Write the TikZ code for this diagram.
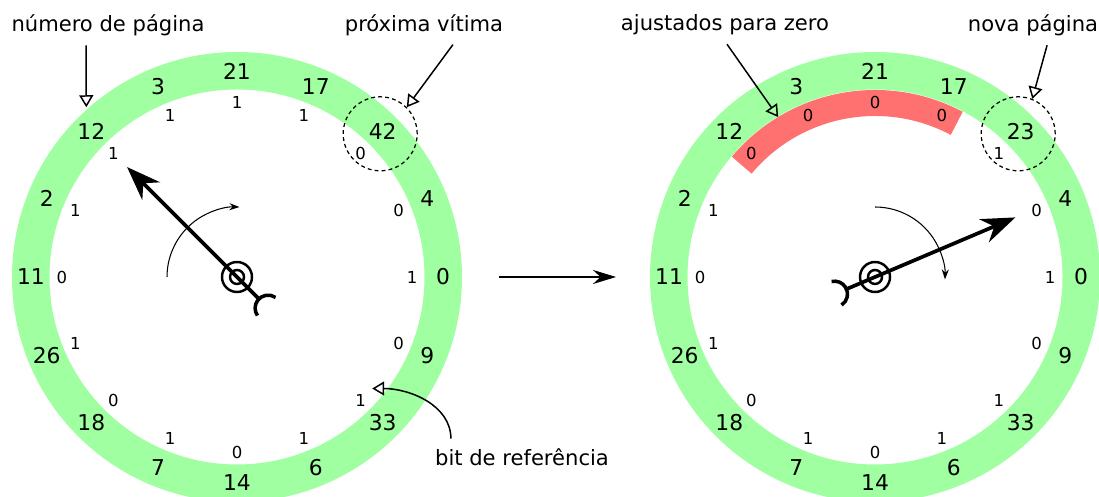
\documentclass[tikz,border=0pt]{standalone}
\usepackage{fontspec}
\setmainfont{DejaVu Sans}
\usepackage{xcolor}
\usepackage{tikz}
\usetikzlibrary{arrows.meta}

\definecolor{ringgreen}{RGB}{160,255,160}
\definecolor{zerored}{RGB}{255,112,112}

\tikzset{
  page/.style={font=\fontsize{12.4}{14}\selectfont},
  refbit/.style={font=\fontsize{9.4}{11}\selectfont},
  lbl/.style={font=\fontsize{12}{14}\selectfont},
  ring/.style={draw=ringgreen,line width=0.75cm},
  zeroband/.style={draw=zerored,line width=0.52cm},
  hand/.style={line width=2.1pt,-{Stealth[length=0.68cm,width=0.5cm]}},
  tailarc/.style={line width=2pt},
  pivot/.style={draw,circle,line width=1.4pt,inner sep=0},
  spin/.style={line width=0.6pt,-{Stealth[length=0.2cm,width=0.14cm]}},
  victim/.style={draw,circle,dash pattern=on 2.2pt off 1.8pt,line width=0.7pt,minimum size=1.48cm,inner sep=0},
  pointer/.style={line width=0.85pt,shorten <=2pt,-{Triangle[open,length=0.24cm,width=0.28cm]}},
  advance/.style={line width=1.4pt,-{Stealth[length=0.46cm,width=0.28cm]}}
}

\begin{document}
\begin{tikzpicture}
    \useasboundingbox (0,0) rectangle (21.98,9.94);

    % clock before
    \begin{scope}[shift={(4.74,4.40)}]
    \draw[ring] (0,0) circle (4.125);
    \node[victim] (lvict) at (45:4.05) {};

    \node[page] (l21) at (90:4.12) {21};
    \node[page] (l17) at (67.5:4.12) {17};
    \node[page] (l42) at (45:4.12) {42};
    \node[page] (l4) at (22.5:4.12) {4};
    \node[page] (l0) at (0:4.12) {0};
    \node[page] (l9) at (-22.5:4.12) {9};
    \node[page] (l33) at (-45:4.12) {33};
    \node[page] (l6) at (-67.5:4.12) {6};
    \node[page] (l14) at (-90:4.12) {14};
    \node[page] (l7) at (-112.5:4.12) {7};
    \node[page] (l18) at (-135:4.12) {18};
    \node[page] (l26) at (-157.5:4.12) {26};
    \node[page] (l11) at (180:4.12) {11};
    \node[page] (l2) at (157.5:4.12) {2};
    \node[page] (l12) at (135:4.12) {12};
    \node[page] (l3) at (112.5:4.12) {3};

    \node[refbit] (lb21) at (90:3.5) {1};
    \node[refbit] (lb17) at (67.5:3.5) {1};
    \node[refbit] (lb42) at (45:3.5) {0};
    \node[refbit] (lb4) at (22.5:3.5) {0};
    \node[refbit] (lb0) at (0:3.5) {1};
    \node[refbit] (lb9) at (-22.5:3.5) {0};
    \node[refbit] (lb33) at (-45:3.5) {1};
    \node[refbit] (lb6) at (-67.5:3.5) {1};
    \node[refbit] (lb14) at (-90:3.5) {0};
    \node[refbit] (lb7) at (-112.5:3.5) {1};
    \node[refbit] (lb18) at (-135:3.5) {0};
    \node[refbit] (lb26) at (-157.5:3.5) {1};
    \node[refbit] (lb11) at (180:3.5) {0};
    \node[refbit] (lb2) at (157.5:3.5) {1};
    \node[refbit] (lb12) at (135:3.5) {1};
    \node[refbit] (lb3) at (112.5:3.5) {1};

    \coordinate (ltip) at (135:3.11);
    \coordinate (ltail) at (315:0.62);
    \draw[hand] (ltail) -- (ltip);
    \draw[tailarc] (315:0.88) ++(55:0.26) arc (55:215:0.26);
    \node[pivot,minimum size=0.6cm] (lpiv) at (0,0) {};
    \node[pivot,minimum size=0.28cm] (lpivin) at (0,0) {};
    \draw[spin] (180:1.4) arc (180:88:1.4);
    \coordinate (lnum) at (131.6:4.54);
    \end{scope}

    % clock after
    \begin{scope}[shift={(17.50,4.40)}]
    \draw[ring] (0,0) circle (4.125);
    \draw[zeroband] (140:3.48) arc (140:62:3.48);
    \node[victim] (rvict) at (45:4.05) {};

    \node[page] (r21) at (90:4.12) {21};
    \node[page] (r17) at (67.5:4.12) {17};
    \node[page] (r23) at (45:4.12) {23};
    \node[page] (r4) at (22.5:4.12) {4};
    \node[page] (r0) at (0:4.12) {0};
    \node[page] (r9) at (-22.5:4.12) {9};
    \node[page] (r33) at (-45:4.12) {33};
    \node[page] (r6) at (-67.5:4.12) {6};
    \node[page] (r14) at (-90:4.12) {14};
    \node[page] (r7) at (-112.5:4.12) {7};
    \node[page] (r18) at (-135:4.12) {18};
    \node[page] (r26) at (-157.5:4.12) {26};
    \node[page] (r11) at (180:4.12) {11};
    \node[page] (r2) at (157.5:4.12) {2};
    \node[page] (r12) at (135:4.12) {12};
    \node[page] (r3) at (112.5:4.12) {3};

    \node[refbit] (rb21) at (90:3.5) {0};
    \node[refbit] (rb17) at (67.5:3.5) {0};
    \node[refbit] (rb23) at (45:3.5) {1};
    \node[refbit] (rb4) at (22.5:3.5) {0};
    \node[refbit] (rb0) at (0:3.5) {1};
    \node[refbit] (rb9) at (-22.5:3.5) {0};
    \node[refbit] (rb33) at (-45:3.5) {1};
    \node[refbit] (rb6) at (-67.5:3.5) {1};
    \node[refbit] (rb14) at (-90:3.5) {0};
    \node[refbit] (rb7) at (-112.5:3.5) {1};
    \node[refbit] (rb18) at (-135:3.5) {0};
    \node[refbit] (rb26) at (-157.5:3.5) {1};
    \node[refbit] (rb11) at (180:3.5) {0};
    \node[refbit] (rb2) at (157.5:3.5) {1};
    \node[refbit] (rb12) at (135:3.5) {0};
    \node[refbit] (rb3) at (112.5:3.5) {0};

    \coordinate (rtip) at (23:3.05);
    \coordinate (rtail) at (203:0.62);
    \draw[hand] (rtail) -- (rtip);
    \draw[tailarc] (203:0.88) ++(-57:0.26) arc (-57:103:0.26);
    \node[pivot,minimum size=0.6cm] (rpiv) at (0,0) {};
    \node[pivot,minimum size=0.28cm] (rpivin) at (0,0) {};
    \draw[spin] (90:1.4) arc (90:-2:1.4);
    \coordinate (rzero) at (121.2:3.74);
    \end{scope}

    % labels
    \node[lbl] (numlbl) at (2.16,9.44) {número de página};
    \draw[pointer] ([xshift=-0.44cm]numlbl.south) -- (lnum);

    \node[lbl] (proxlbl) at (8.48,9.44) {próxima vítima};
    \draw[pointer] ([xshift=0.62cm]proxlbl.south) -- (lvict.45);

    \node[lbl] (ajlbl) at (14.50,9.44) {ajustados para zero};
    \draw[pointer] (ajlbl.south) -- (rzero);

    \node[lbl] (novalbl) at (20.66,9.44) {nova página};
    \draw[pointer] ([xshift=0.30cm]novalbl.south) -- (rvict.68);

    \node[lbl] (reflbl) at (10.44,0.80) {bit de referência};
    \draw[pointer] ([xshift=0.44cm]reflbl.north west) to[out=90,in=0] (lb33.north east);

    \coordinate (mida) at (9.98,4.40);
    \coordinate (midb) at (12.32,4.40);
    \draw[advance] (mida) -- (midb);
\end{tikzpicture}
\end{document}
